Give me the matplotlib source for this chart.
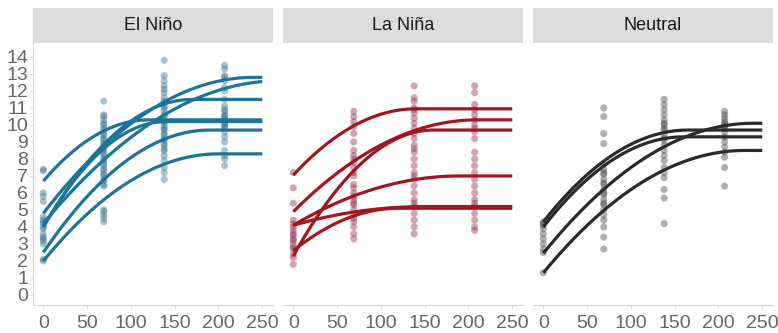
import numpy as np
import matplotlib
matplotlib.use("Agg")
import matplotlib.pyplot as plt

plt.rcParams['font.family'] = ['Liberation Sans', 'DejaVu Sans']

# ---------------- data ----------------
panels = ["El Niño", "La Niña", "Neutral"]
doses = [0, 69, 138, 207]

# observed points (per dose) for each ENSO phase
en_0 = [7.4, 7.3, 6.0, 5.8, 5.5, 4.6, 4.4, 4.3, 4.2, 4.0, 3.9, 3.6, 3.4, 3.3, 3.2, 3.0,
        2.1, 2.0]
en_70 = [11.4, 10.6, 10.5, 10.3, 10.1, 10.0, 9.8, 9.7, 9.5, 9.4, 9.2, 9.1, 8.9, 8.8, 8.6,
         8.5, 8.3, 8.2, 8.0, 7.9, 7.7, 7.6, 7.4, 7.3, 7.1, 7.0, 6.8, 6.7, 6.5, 6.4, 5.0,
         4.9, 4.7, 4.5, 4.3]
en_140 = [13.8, 12.9, 12.6, 12.3, 12.1, 11.9, 11.6, 11.4, 11.3, 11.1, 11.0, 10.8, 10.6,
          10.5, 10.3, 10.2, 10.1, 9.9, 9.8, 9.7, 9.5, 9.4, 9.2, 9.1, 8.9, 8.8, 8.6, 8.5,
          8.2, 7.9, 7.5, 7.2, 6.8]
en_210 = [13.5, 13.3, 12.9, 12.8, 12.6, 12.2, 12.0, 11.5, 11.1, 10.9, 10.8, 10.6, 10.5,
          10.4, 10.3, 10.2, 10.1, 10.0, 9.9, 9.8, 9.6, 9.3, 9.0, 8.5, 8.2, 8.0, 7.6]

ln_0 = [7.2, 6.3, 5.4, 4.4, 4.2, 4.0, 3.8, 3.6, 3.5, 3.3, 3.2, 3.0, 2.8, 2.7, 2.4, 2.2,
        1.8]
ln_70 = [10.8, 10.5, 10.2, 9.9, 9.5, 9.0, 8.5, 8.2, 8.0, 7.8, 7.5, 7.2, 7.0, 6.5, 6.3,
         6.0, 5.8, 5.6, 5.4, 5.3, 5.0, 4.7, 4.5, 4.3, 4.0, 3.6, 3.3]
ln_140 = [12.3, 11.6, 11.4, 11.0, 10.9, 10.7, 10.4, 10.1, 9.8, 9.5, 9.2, 8.8, 8.6, 8.4,
          8.0, 7.6, 7.2, 7.0, 6.8, 6.4, 6.0, 5.6, 5.4, 5.2, 4.8, 4.4, 4.0, 3.6]
ln_210 = [12.3, 11.9, 11.2, 10.9, 10.6, 10.3, 10.0, 9.8, 9.6, 9.2, 8.4, 8.0, 7.6, 7.2,
          6.8, 6.4, 6.0, 5.6, 5.4, 5.2, 4.8, 4.4, 4.0, 3.8]

nt_0 = [4.3, 4.2, 4.1, 3.9, 3.6, 3.3, 3.0, 2.7, 2.5, 1.3]
nt_70 = [11.0, 10.5, 9.5, 8.9, 7.7, 7.4, 7.2, 7.1, 6.8, 6.6, 6.5, 6.2, 6.0, 5.9, 5.6,
         5.4, 5.3, 5.0, 4.7, 4.4, 4.0, 3.4, 2.7]
nt_140 = [11.5, 11.2, 10.9, 10.6, 10.3, 10.1, 10.0, 9.8, 9.7, 9.4, 9.2, 9.1, 8.8, 8.5,
          8.2, 7.9, 7.5, 7.2, 6.9, 6.2, 5.7, 4.2]
nt_210 = [10.8, 10.6, 10.4, 10.2, 10.1, 10.0, 9.9, 9.8, 9.6, 9.3, 9.0, 8.7, 8.4, 8.1,
          7.5, 6.4]

# fitted quadratic-plateau curves: intercept, plateau, join point
en_start = [6.7, 4.8, 4.2, 4.0, 4.0, 2.5, 2.0]
en_plateau = [10.3, 12.8, 12.6, 11.5, 10.2, 9.7, 8.3]
en_join = [120, 240, 270, 170, 140, 190, 200]

ln_start = [7.05, 4.9, 2.3, 4.1, 4.1, 2.6]
ln_plateau = [10.95, 10.3, 9.7, 7.0, 5.2, 5.1]
ln_join = [140, 210, 160, 190, 150, 120]

nt_start = [4.3, 4.0, 2.45, 1.3]
nt_plateau = [9.7, 9.3, 10.1, 8.5]
nt_join = [165, 160, 240, 230]

x_ticks = [0, 50, 100, 150, 200, 250]
y_ticks = list(range(0, 15))

# ---------------- style ----------------
line_colors = ["#1b7598", "#a3161f", "#2a2a2a"]
point_colors = ["#3f7896", "#9a3550", "#505050"]

points = [
    [en_0, en_70, en_140, en_210],
    [ln_0, ln_70, ln_140, ln_210],
    [nt_0, nt_70, nt_140, nt_210],
]
curves = [
    (en_start, en_plateau, en_join),
    (ln_start, ln_plateau, ln_join),
    (nt_start, nt_plateau, nt_join),
]

W, H = 778, 333
fig = plt.figure(figsize=(W / 100, H / 100), dpi=100)

ax_lefts = [32.8, 282.8, 532.8]
ax_w = 240
ax_top, ax_bot = 43, 305
strip_top = 8

tick_col = "#666666"
axis_col = "#d4d4d4"

for i, name in enumerate(panels):
    left = ax_lefts[i] / W
    ax = fig.add_axes([left, (H - ax_bot) / H, ax_w / W, (ax_bot - ax_top) / H])
    ax.set_xlim(-12, 262)
    ax.set_ylim(-0.59, 14.82)
    for s in ["top", "right"]:
        ax.spines[s].set_visible(False)
    ax.spines["bottom"].set_color(axis_col)
    ax.spines["bottom"].set_linewidth(0.8)
    if i == 0:
        ax.spines["left"].set_color(axis_col)
        ax.spines["left"].set_linewidth(0.8)
        ax.set_yticks(y_ticks)
        ax.tick_params(axis="y", colors=axis_col, labelcolor=tick_col, labelsize=14,
                       length=2.5, width=0.6, pad=1)
    else:
        ax.spines["left"].set_visible(False)
        ax.set_yticks([])
    ax.set_xticks(x_ticks)
    ax.tick_params(axis="x", colors=axis_col, labelcolor=tick_col, labelsize=14,
                   length=2.5, width=0.6, pad=5)

    # points
    for d, ys in zip(doses, points[i]):
        ax.scatter([d] * len(ys), ys, s=26, color=point_colors[i], alpha=0.45,
                   edgecolors="none", zorder=2)

    # curves
    xs = np.linspace(0, 250, 300)
    starts, plateaus, joins = curves[i]
    for a, p, x0 in zip(starts, plateaus, joins):
        t = np.minimum(xs / x0, 1.0)
        ys = p - (p - a) * (1 - t) ** 2
        ax.plot(xs, ys, color=line_colors[i], lw=2.3, solid_capstyle="butt", zorder=3)

    # facet strip
    sax = fig.add_axes([left, (H - ax_top) / H, ax_w / W, (ax_top - strip_top) / H])
    sax.set_facecolor("#dcdcdc")
    sax.set_xticks([])
    sax.set_yticks([])
    for s in sax.spines.values():
        s.set_visible(False)
    sax.text(0.5, 0.5, name, ha="center", va="center", fontsize=13, color="#1a1a1a",
             transform=sax.transAxes)

fig.savefig("out.png", dpi=100)
